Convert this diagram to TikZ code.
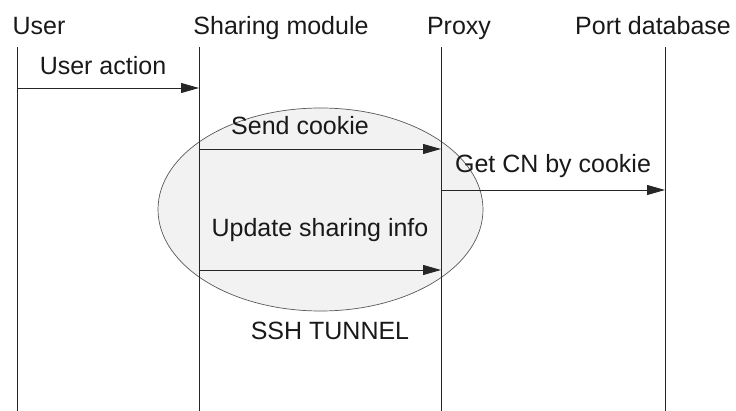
\documentclass[tikz,border=0pt]{standalone}
\usepackage{fontspec}
\setmainfont{Liberation Sans}
\usetikzlibrary{arrows.meta,shapes.geometric}
\begin{document}
\begin{tikzpicture}[x=1pt,y=-1pt,
  lbl/.style={anchor=base,inner sep=0pt,text=black!90,font=\fontsize{25}{30}\selectfont},
  lifeline/.style={draw=black!85,line width=0.9pt},
  msg/.style={draw=black!85,line width=0.9pt,-{Triangle[length=18pt,width=10pt]}},
  tunnel/.style={draw=black!65,line width=0.7pt,fill=black!5}]
\useasboundingbox (0,0) rectangle (736,411);

% SSH tunnel region
\node[tunnel,ellipse,minimum width=325pt,minimum height=203pt,inner sep=0pt] (ssh) at (320.5,209.5) {};

% participants
\node[lbl] (hUser)  at (39,35)  {User};
\node[lbl] (hShare) at (281,35) {Sharing module};
\node[lbl] (hProxy) at (459,35) {Proxy};
\node[lbl] (hPort)  at (653,35) {Port database};

% lifelines
\coordinate (uT) at (17,47);  \coordinate (uB) at (17,411);
\coordinate (sT) at (199,47); \coordinate (sB) at (199,411);
\coordinate (pT) at (441,47); \coordinate (pB) at (441,411);
\coordinate (dT) at (665,47); \coordinate (dB) at (665,411);
\draw[lifeline] (uT) -- (uB);
\draw[lifeline] (sT) -- (sB);
\draw[lifeline] (pT) -- (pB);
\draw[lifeline] (dT) -- (dB);

% message end points
\coordinate (u1) at (17,88);  \coordinate (s1) at (199,88);
\coordinate (s2) at (199,149); \coordinate (p2) at (441,149);
\coordinate (p3) at (441,190); \coordinate (d3) at (665,190);
\coordinate (s4) at (199,270); \coordinate (p4) at (441,270);

% messages
\draw[msg] (u1) -- (s1);
\draw[msg] (s2) -- (p2);
\draw[msg] (p3) -- (d3);
\draw[msg] (s4) -- (p4);

% message labels
\node[lbl] (mAction) at (103,75)  {User action};
\node[lbl] (mCookie) at (300,135) {Send cookie};
\node[lbl] (mCN)     at (553,173) {Get CN by cookie};
\node[lbl] (mUpdate) at (320,237) {Update sharing info};
\node[lbl] (mSSH)    at (330,340) {SSH TUNNEL};
\end{tikzpicture}
\end{document}
